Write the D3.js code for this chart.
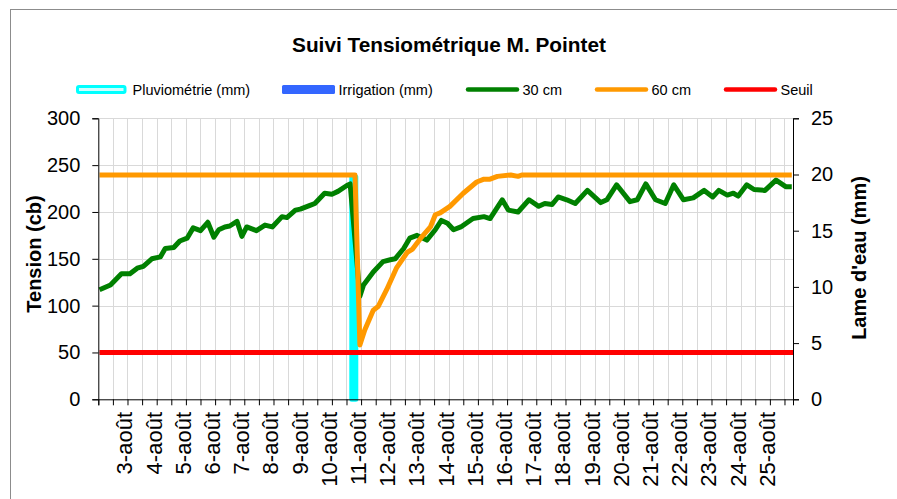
<!DOCTYPE html>
<html>
<head>
<meta charset="utf-8">
<script src="https://cdn.jsdelivr.net/npm/d3@7"></script>
<style>
  body { margin: 0; background: #fff; }
  text { font-family: "Liberation Sans", Arial, sans-serif; fill: #000; }
</style>
</head>
<body>
<div id="chart"></div>
<script>
// Data (time "mm-dd HH:MM", value)
const tension30 = [
  ["08-02 01:00",117],["08-02 10:00",122],["08-02 19:00",134],["08-03 02:00",134],["08-03 08:00",140],
  ["08-03 13:00",142],["08-03 20:00",150],["08-04 03:00",152],["08-04 07:00",161],["08-04 14:00",162],
  ["08-04 19:00",169],["08-05 01:00",172],["08-05 06:00",183],["08-05 12:00",180],["08-05 18:00",189],
  ["08-05 23:00",173],["08-06 03:00",181],["08-06 08:00",184],["08-06 12:00",185],["08-06 18:00",190],
  ["08-06 22:00",174],["08-07 02:00",184],["08-07 10:00",180],["08-07 17:00",186],["08-07 23:00",184],
  ["08-08 07:00",195],["08-08 11:00",194],["08-08 18:00",202],["08-08 22:00",203],["08-09 06:00",207],
  ["08-09 10:00",209],["08-09 18:00",220],["08-10 00:00",219],["08-10 05:00",222],["08-10 12:00",228],
  ["08-10 15:00",230],["08-10 23:00",110],["08-11 02:00",122],["08-11 10:00",136],["08-11 18:00",147],
  ["08-12 00:00",149],["08-12 04:00",150],["08-12 11:00",161],["08-12 16:00",172],["08-12 22:00",175],
  ["08-13 06:00",170],["08-13 13:00",181],["08-13 18:00",191],["08-13 23:00",188],["08-14 04:00",181],
  ["08-14 10:00",184],["08-14 20:00",193],["08-15 05:00",195],["08-15 10:00",193],["08-15 20:00",213],
  ["08-16 01:00",202],["08-16 09:00",200],["08-16 18:00",213],["08-17 02:00",206],["08-17 07:00",209],
  ["08-17 13:00",208],["08-17 18:00",216],["08-18 01:00",213],["08-18 08:00",209],["08-18 18:00",223],
  ["08-19 05:00",210],["08-19 10:00",213],["08-19 18:00",229],["08-20 05:00",211],["08-20 11:00",213],
  ["08-20 18:00",230],["08-21 02:00",213],["08-21 10:00",209],["08-21 17:00",229],["08-22 01:00",213],
  ["08-22 09:00",215],["08-22 18:00",223],["08-23 01:00",216],["08-23 06:00",223],["08-23 13:00",218],
  ["08-23 18:00",220],["08-23 22:00",217],["08-24 05:00",229],["08-24 11:00",224],["08-24 20:00",223],
  ["08-25 05:00",234],["08-25 13:00",227],["08-25 18:00",227]
];

const tension60 = [
  ["08-02 01:00",239.5],["08-10 19:00",239.5],["08-10 23:00",58],["08-11 03:00",74],["08-11 10:00",95],
  ["08-11 14:00",99],["08-11 21:00",117],["08-12 05:00",140],["08-12 14:00",157],["08-12 18:00",160],
  ["08-13 01:00",172],["08-13 09:00",184],["08-13 13:00",197],["08-13 17:00",199],["08-14 01:00",206],
  ["08-14 12:00",220],["08-14 23:00",232],["08-15 05:00",235],["08-15 10:00",235],["08-15 16:00",238],
  ["08-16 03:00",239.5],["08-16 09:00",238],["08-16 12:00",239.5],["08-25 18:00",239.5]
];

const seuil = [["08-02 01:00",50],["08-25 19:00",50]];

// Lame d'eau (mm), secondary axis
const pluviometrie = [["08-10 18:00",20]];
const irrigation = [];

const xTickLabels = ["3-août","4-août","5-août","6-août","7-août","8-août","9-août","10-août",
  "11-août","12-août","13-août","14-août","15-août","16-août","17-août","18-août","19-août",
  "20-août","21-août","22-août","23-août","24-août","25-août"];
const yLeftTicks = [0, 50, 100, 150, 200, 250, 300];
const yRightTicks = [0, 5, 10, 15, 20, 25];

const legendItems = [
  { name: "Pluviométrie (mm)", type: "pluvio", x: 76 },
  { name: "Irrigation (mm)", type: "irrig", x: 282 },
  { name: "30 cm", type: "line", color: "#008000", x: 466 },
  { name: "60 cm", type: "line", color: "#FF9900", x: 595 },
  { name: "Seuil", type: "line", color: "#FF0000", x: 724 }
];

// Layout
const W = 897, H = 499;
const plot = { left: 98.3, right: 793, top: 118.3, bottom: 399.3 };

const parseTime = d3.timeParse("%m-%d %H:%M");
const toPts = arr => arr.map(([t, v]) => ({ t: parseTime(t), v: v }));

const svg = d3.select("#chart").append("svg")
  .attr("width", W)
  .attr("height", H);

svg.append("rect").attr("width", W).attr("height", H).attr("fill", "#fff");

// outer frame (cut at right/bottom in the picture)
svg.append("rect")
  .attr("x", 10.5).attr("y", 9.5)
  .attr("width", 920).attr("height", 520)
  .attr("fill", "none")
  .attr("stroke", "#8c8c8c");

// Scales
const x = d3.scaleTime()
  .domain([parseTime("08-02 00:00"), parseTime("08-25 19:00")])
  .range([plot.left, plot.right]);
const y = d3.scaleLinear().domain([0, 300]).range([plot.bottom, plot.top]);
const yR = d3.scaleLinear().domain([0, 25]).range([plot.bottom, plot.top]);

const halfDays = d3.timeHour.every(12).range(x.domain()[0], x.domain()[1]);

// Gridlines
const grid = svg.append("g").attr("stroke", "#d9d9d9").attr("stroke-width", 1);
grid.selectAll(".vg")
  .data(halfDays.slice(1))
  .enter().append("line")
  .attr("x1", d => Math.round(x(d)) + 0.5).attr("x2", d => Math.round(x(d)) + 0.5)
  .attr("y1", plot.top).attr("y2", plot.bottom);
grid.selectAll(".hg")
  .data(yLeftTicks.slice(1))
  .enter().append("line")
  .attr("x1", plot.left).attr("x2", plot.right)
  .attr("y1", d => Math.round(y(d)) + 0.5).attr("y2", d => Math.round(y(d)) + 0.5);

// Columns (secondary axis)
svg.selectAll(".pluvio")
  .data(toPts(pluviometrie))
  .enter().append("rect")
  .attr("x", d => x(d.t) - 2)
  .attr("width", 4)
  .attr("y", d => yR(d.v) + 2.5)
  .attr("height", d => yR(0) - yR(d.v) - 2.5)
  .attr("fill", "#CCFFFF")
  .attr("stroke", "#00FFFF")
  .attr("stroke-width", 5)
  .attr("stroke-linejoin", "round");

svg.selectAll(".irrig")
  .data(toPts(irrigation))
  .enter().append("rect")
  .attr("x", d => x(d.t) - 4.5)
  .attr("width", 9)
  .attr("y", d => yR(d.v))
  .attr("height", d => yR(0) - yR(d.v))
  .attr("fill", "#3366FF");

// Lines
const line = d3.line().x(d => x(d.t)).y(d => y(d.v));
[[tension30, "#008000"], [tension60, "#FF9900"], [seuil, "#FF0000"]].forEach(([data, color]) => {
  svg.append("path")
    .datum(toPts(data))
    .attr("d", line)
    .attr("fill", "none")
    .attr("stroke", color)
    .attr("stroke-width", 5)
    .attr("stroke-linejoin", "round");
});

// Axes
const yAxisL = d3.axisLeft(y).tickValues(yLeftTicks).tickSize(6).tickPadding(12);
const gL = svg.append("g").attr("transform", `translate(${plot.left},0)`).call(yAxisL);
const yAxisR = d3.axisRight(yR).tickValues(yRightTicks).tickSize(6).tickPadding(12);
const gR = svg.append("g").attr("transform", `translate(${plot.right},0)`).call(yAxisR);
[gL, gR].forEach(g => {
  g.select(".domain").attr("stroke", "#000");
  g.selectAll(".tick line").attr("stroke", "#000");
  g.selectAll("text").style("font-size", "20px").attr("fill", "#000");
});

const xAxis = d3.axisBottom(x).tickValues(halfDays).tickSize(6).tickFormat("");
const gX = svg.append("g").attr("transform", `translate(0,${plot.bottom})`).call(xAxis);
gX.select(".domain").attr("stroke", "#000");
gX.selectAll(".tick line").attr("stroke", "#000");

svg.append("g").selectAll("text")
  .data(xTickLabels)
  .enter().append("text")
  .attr("transform", d => {
    const day = String(parseInt(d)).padStart(2, "0");
    return `translate(${x(parseTime("08-" + day + " 00:00")) + 5},412) rotate(-90)`;
  })
  .attr("text-anchor", "end")
  .style("font-size", "22px")
  .text(d => d);

// Axis titles
svg.append("text")
  .attr("transform", "translate(41,254) rotate(-90)")
  .attr("text-anchor", "middle")
  .style("font-size", "20px")
  .style("font-weight", "bold")
  .text("Tension (cb)");

svg.append("text")
  .attr("transform", "translate(866,258) rotate(-90)")
  .attr("text-anchor", "middle")
  .style("font-size", "20px")
  .style("font-weight", "bold")
  .text("Lame d'eau (mm)");

// Title
svg.append("text")
  .attr("x", 449).attr("y", 52)
  .attr("text-anchor", "middle")
  .style("font-size", "20.8px")
  .style("font-weight", "bold")
  .text("Suivi Tensiométrique M. Pointet");

// Legend
const lg = svg.append("g");
legendItems.forEach(item => {
  if (item.type === "pluvio") {
    lg.append("rect")
      .attr("x", item.x + 1.5).attr("y", 86.5)
      .attr("width", 47.5).attr("height", 6)
      .attr("rx", 1.5)
      .attr("fill", "#CCFFFF")
      .attr("stroke", "#00FFFF")
      .attr("stroke-width", 3);
  } else if (item.type === "irrig") {
    lg.append("rect")
      .attr("x", item.x).attr("y", 85)
      .attr("width", 53).attr("height", 9)
      .attr("rx", 1.5)
      .attr("fill", "#3366FF");
  } else {
    lg.append("line")
      .attr("x1", item.x + 2).attr("x2", item.x + 51)
      .attr("y1", 89.5).attr("y2", 89.5)
      .attr("stroke", item.color)
      .attr("stroke-width", 4.5)
      .attr("stroke-linecap", "round");
  }
  lg.append("text")
    .attr("x", item.x + 56.5)
    .attr("y", 94.5)
    .style("font-size", "14.5px")
    .text(item.name);
});
</script>
</body>
</html>
